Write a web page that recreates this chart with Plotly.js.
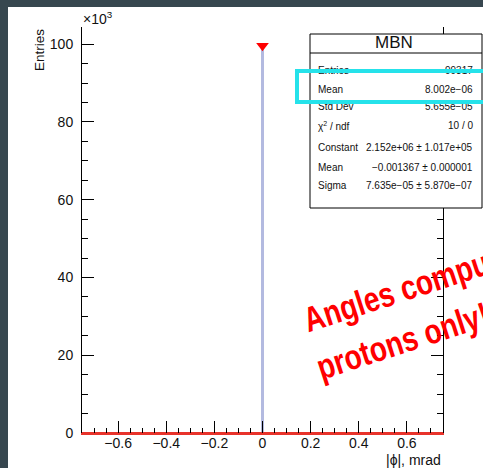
<!DOCTYPE html>
<html>
<head>
<meta charset="utf-8">
<script src="https://cdn.plot.ly/plotly-3.0.1.min.js"></script>
<style>
  html, body { margin: 0; padding: 0; background: #37474f; width: 483px; height: 468px; overflow: hidden; }
  #chart { position: absolute; left: 8px; top: 7px; width: 475px; height: 461px; background: #ffffff; }
</style>
</head>
<body>
<div id="chart"></div>
<script>
// ---- data (y in units of 10^3 entries) ----
const binCenters = [0];
const binCounts = [99.3];
const binWidth = 0.015;
const edgeCounts = [2.3];
const peakX = [0];
const peakY = [99.6];
const fitX = [-0.75, 0.75];
const fitY = [0, 0];
const xTickVals = [-0.6, -0.4, -0.2, 0, 0.2, 0.4, 0.6];
const xTickText = ['\u22120.6', '\u22120.4', '\u22120.2', '0', '0.2', '0.4', '0.6'];
const yTickVals = [0, 20, 40, 60, 80, 100];
const yTickText = ['0', '20', '40', '60', '80', '100'];
const statTitle = 'MBN';
const statLabels = ['Entries', 'Mean', 'Std Dev', '\u03c7<sup>2</sup> / ndf', 'Constant', 'Mean', 'Sigma'];
const statValues = ['99317', '8.002e\u221206', '5.655e\u221205', '10 / 0',
  '2.152e+06 \u00b1 1.017e+05', '\u22120.001367 \u00b1 0.000001', '7.635e\u221205 \u00b1 5.870e\u221207'];
const noteLines = ['Angles computed for', 'protons only!'];

// ---- layout geometry (pixels in the chart div) ----
const W = 475, H = 461, ML = 74, MR = 40, MT = 20, MB = 35;
const PW = W - ML - MR, PH = H - MT - MB;
const px = x => (x - ML) / PW;
const py = y => (H - MB - y) / PH;

const FONT = 'Liberation Sans, Arial, Helvetica, sans-serif';
const XR = [-0.75, 0.75], YR = [0, 104.4];

const traces = [
  { type: 'bar', x: binCenters, y: binCounts, width: binWidth,
    marker: { color: '#b3bae0', line: { width: 0 } }, hoverinfo: 'skip' },
  { type: 'bar', x: binCenters, y: edgeCounts, width: 0.005,
    marker: { color: '#1c2470', line: { width: 0 } }, hoverinfo: 'skip' },
  { type: 'scatter', mode: 'lines', x: fitX, y: fitY,
    line: { color: '#e8332b', width: 2 }, hoverinfo: 'skip' },
  { type: 'scatter', mode: 'markers', x: peakX, y: peakY, cliponaxis: false,
    marker: { symbol: 'triangle-down', size: 11, color: '#ff0000', line: { width: 0 } }, hoverinfo: 'skip' }
];

const layout = {
  width: W, height: H,
  margin: { l: ML, r: MR, t: MT, b: MB, pad: 0 },
  paper_bgcolor: '#ffffff', plot_bgcolor: '#ffffff',
  showlegend: false, barmode: 'overlay', bargap: 0,
  font: { family: FONT, color: '#111' },
  xaxis: {
    range: XR, showgrid: false, zeroline: false,
    showline: true, linecolor: '#e8332b', linewidth: 1.5, mirror: false,
    ticks: 'inside', ticklen: 12, tickcolor: '#000', tickwidth: 1,
    tickmode: 'array', tickvals: xTickVals, ticktext: xTickText,
    tickfont: { family: FONT, size: 14, color: '#111' }, ticklabelstandoff: -3,
    minor: { dtick: 0.05, tick0: 0, ticks: 'inside', ticklen: 5, tickcolor: '#000', showgrid: false }
  },
  xaxis2: {
    overlaying: 'x', anchor: 'y', side: 'top', range: XR, showgrid: false, zeroline: false,
    showline: true, linecolor: '#000', linewidth: 1,
    ticks: 'inside', ticklen: 12, tickcolor: '#000', dtick: 0.2, tick0: 0, showticklabels: false,
    minor: { dtick: 0.05, tick0: 0, ticks: 'inside', ticklen: 5, tickcolor: '#000', showgrid: false }
  },
  xaxis3: {
    overlaying: 'x', anchor: 'y', side: 'bottom', range: XR, showgrid: false, zeroline: false,
    showline: false, ticks: 'inside', ticklen: 8, tickcolor: '#000', dtick: 0.1, tick0: 0,
    showticklabels: false
  },
  xaxis4: {
    overlaying: 'x', anchor: 'y', side: 'top', range: XR, showgrid: false, zeroline: false,
    showline: false, ticks: 'inside', ticklen: 8, tickcolor: '#000', dtick: 0.1, tick0: 0,
    showticklabels: false
  },
  yaxis: {
    range: YR, showgrid: false, zeroline: false,
    showline: true, linecolor: '#000', linewidth: 1, mirror: 'ticks',
    ticks: 'inside', ticklen: 12, tickcolor: '#000', tickwidth: 1,
    tickmode: 'array', tickvals: yTickVals, ticktext: yTickText,
    tickfont: { family: FONT, size: 14, color: '#111' }, ticklabelstandoff: 5,
    minor: { dtick: 5, tick0: 0, ticks: 'inside', ticklen: 6, tickcolor: '#000', showgrid: false }
  },
  shapes: [
    { type: 'rect', xref: 'paper', yref: 'paper', x0: px(302), x1: px(474), y0: py(201), y1: py(27),
      fillcolor: '#ffffff', line: { color: '#000', width: 1 }, layer: 'above' },
    { type: 'line', xref: 'paper', yref: 'paper', x0: px(302), x1: px(474), y0: py(46), y1: py(46),
      line: { color: '#000', width: 1 }, layer: 'above' }
  ],
  annotations: []
};

const A = layout.annotations;
// axis titles and exponent
A.push({ xref: 'paper', yref: 'paper', x: 1, y: py(453), xanchor: 'right', yanchor: 'middle',
  text: '|\u03d5|, mrad', showarrow: false, font: { family: FONT, size: 14, color: '#111' } });
A.push({ xref: 'paper', yref: 'paper', x: px(31), y: 1, xanchor: 'center', yanchor: 'top', textangle: -90,
  text: 'Entries', showarrow: false, font: { family: FONT, size: 13.5, color: '#111' } });
A.push({ xref: 'paper', yref: 'paper', x: px(73), y: py(11), xanchor: 'left', yanchor: 'middle',
  text: '\u00d710<sup>3</sup>', showarrow: false, font: { family: FONT, size: 14, color: '#111' } });
// stats box
A.push({ xref: 'paper', yref: 'paper', x: px(386), y: py(36), xanchor: 'center', yanchor: 'middle',
  text: statTitle, showarrow: false, font: { family: FONT, size: 17, color: '#111' } });
const rowY = [63, 82, 100, 119, 140, 160, 178];
statLabels.forEach((lab, i) => {
  A.push({ xref: 'paper', yref: 'paper', x: px(308), y: py(rowY[i]), xanchor: 'left', yanchor: 'middle',
    text: lab, showarrow: false, font: { family: FONT, size: 10, color: '#111' } });
  A.push({ xref: 'paper', yref: 'paper', x: px(467), y: py(rowY[i]), xanchor: 'right', yanchor: 'middle',
    text: statValues[i], showarrow: false, font: { family: FONT, size: 10, color: '#111' } });
});
// highlight frame (drawn as an empty annotation so it sits above the stats text)
A.push({ xref: 'paper', yref: 'paper', x: px(287), y: py(62), xanchor: 'left', yanchor: 'top',
  text: ' ', width: 190, height: 27, showarrow: false, borderwidth: 4, bordercolor: '#25e2ea',
  bgcolor: 'rgba(0,0,0,0)', borderpad: 0 });
// red slide note
const NOTE_FONT = { family: 'Liberation Sans, Arial, sans-serif', size: 35, color: '#ff0000', weight: 'bold' };
A.push({ xref: 'paper', yref: 'paper', x: px(288), y: py(335), xanchor: 'left', yanchor: 'bottom', align: 'left',
  text: noteLines[0], textangle: -18, showarrow: false, font: NOTE_FONT });
A.push({ xref: 'paper', yref: 'paper', x: px(301), y: py(382), xanchor: 'left', yanchor: 'bottom', align: 'left',
  text: noteLines[1], textangle: -18, showarrow: false, font: NOTE_FONT });

Plotly.newPlot('chart', traces, layout, { staticPlot: true, displayModeBar: false }).then(gd => {
  // the slide note uses a condensed face: squeeze the glyphs horizontally
  gd.querySelectorAll('.annotation-text').forEach(el => {
    if (noteLines.indexOf(el.textContent) >= 0) {
      const len = el.getComputedTextLength();
      el.setAttribute('textLength', (len * 0.80).toFixed(1));
      el.setAttribute('lengthAdjust', 'spacingAndGlyphs');
    }
  });
});
</script>
</body>
</html>
